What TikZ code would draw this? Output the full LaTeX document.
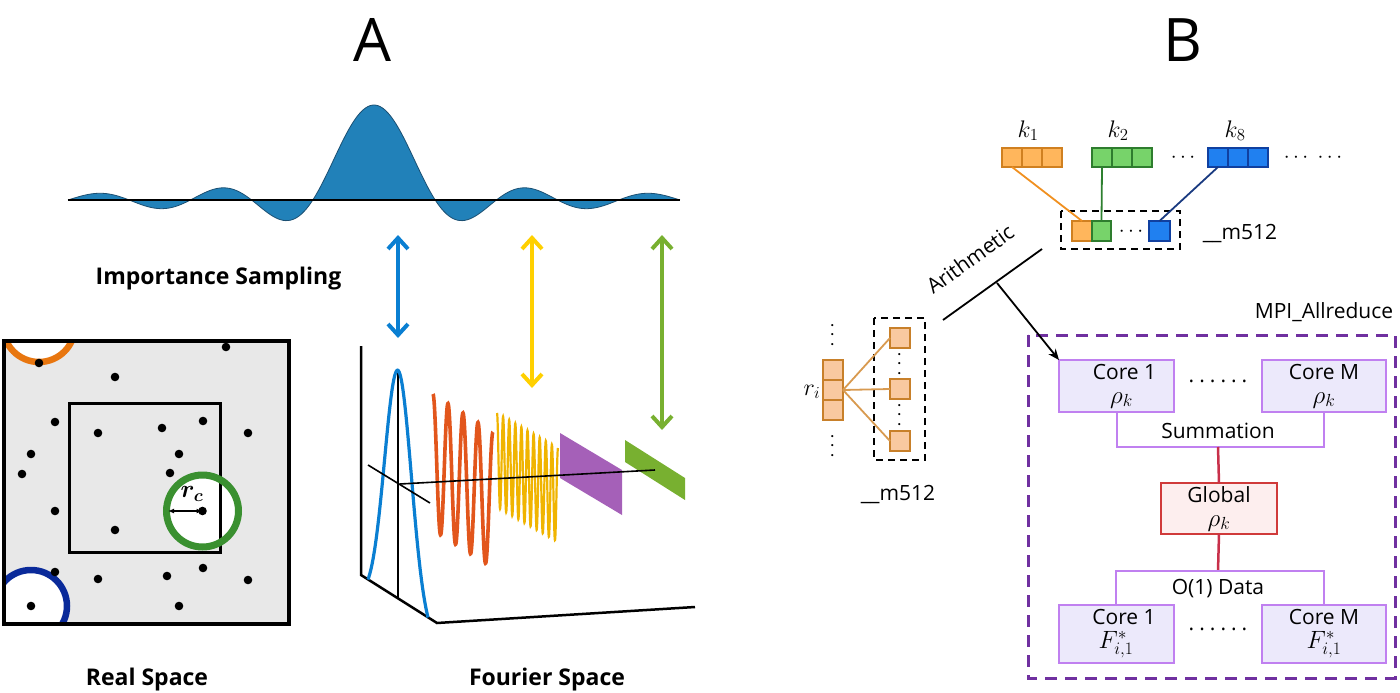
\RequirePackage{fix-cm}
\documentclass[tikz,border=0pt]{standalone}
\usepackage{fontspec}
\setmainfont{Open Sans}
\usepackage{bm}
\usetikzlibrary{arrows.meta}

\definecolor{sincfill}{HTML}{2181B9}
\definecolor{sincline}{HTML}{1B4F72}
\definecolor{arrblue}{HTML}{0A7FD2}
\definecolor{arryellow}{HTML}{FFD000}
\definecolor{arrgreen}{HTML}{78B030}
\definecolor{rsgray}{HTML}{E8E8E8}
\definecolor{ringorange}{HTML}{E8760F}
\definecolor{ringblue}{HTML}{0A2A9A}
\definecolor{ringgreen}{HTML}{3A9030}
\definecolor{waveorange}{HTML}{E2561C}
\definecolor{waveyellow}{HTML}{F0B400}
\definecolor{plpurple}{HTML}{9B4FB0}
\definecolor{plgreen}{HTML}{78B030}
\definecolor{korfill}{HTML}{FFB65C}
\definecolor{kordraw}{HTML}{D08020}
\definecolor{kgrfill}{HTML}{77D36A}
\definecolor{kgrdraw}{HTML}{2E7D2E}
\definecolor{kblfill}{HTML}{2080F0}
\definecolor{kbldraw}{HTML}{1040A0}
\definecolor{lnorange}{HTML}{F09020}
\definecolor{lngreen}{HTML}{2E8030}
\definecolor{lnblue}{HTML}{1A3A80}
\definecolor{rfill}{HTML}{F9C9A0}
\definecolor{rdraw}{HTML}{C8802A}
\definecolor{rline}{HTML}{D89A50}
\definecolor{mpipurple}{HTML}{7030A0}
\definecolor{corefill}{HTML}{ECE9FB}
\definecolor{coredraw}{HTML}{C080F0}
\definecolor{globfill}{HTML}{FDEEEE}
\definecolor{globdraw}{HTML}{D03A3A}
\definecolor{redline}{HTML}{C8304A}

\newcommand{\mymath}[1]{{\fontsize{25}{24}\selectfont$#1$}}

\tikzset{
  lblbold/.style={font=\fontsize{23}{27}\selectfont\bfseries},
  txt/.style={font=\fontsize{21}{24}\selectfont},
  mathlbl/.style={font=\fontsize{24}{26}\selectfont},
  dbl/.style={line width=4pt, {Straight Barb[length=11pt,width=20pt]}-{Straight Barb[length=11pt,width=20pt]}},
  ocell/.style={draw=kordraw, fill=korfill, line width=1.3pt, minimum width=20pt, minimum height=19pt},
  gcell/.style={draw=kgrdraw, fill=kgrfill, line width=1.3pt, minimum width=20pt, minimum height=19pt},
  bcell/.style={draw=kbldraw, fill=kblfill, line width=1.3pt, minimum width=20pt, minimum height=19pt},
  rcell/.style={draw=rdraw, fill=rfill, line width=1.3pt, minimum width=20pt, minimum height=20pt},
  dashbox/.style={draw, dashed, dash pattern=on 7pt off 5pt, line width=1.8pt},
  corebox/.style={draw=coredraw, fill=corefill, line width=2pt, align=center, txt, minimum height=52pt},
  globbox/.style={draw=globdraw, fill=globfill, line width=2pt, align=center, txt},
  bracket/.style={draw=coredraw, line width=2pt},
  redl/.style={draw=redline, line width=2.5pt},
  dotsh/.style={font=\fontsize{21}{24}\selectfont},
}

\begin{document}
\begin{tikzpicture}[x=1pt,y=-1pt, every node/.style={inner sep=0pt, outer sep=0pt}]
\useasboundingbox (0,0) rectangle (1400,693);

% ---------- titles ----------
\node[font=\fontsize{60}{60}\selectfont] (labA) at (372,40) {A};
\node[font=\fontsize{60}{60}\selectfont] (labB) at (1183,40) {B};

% ---------- sinc ----------
\draw[fill=sincfill, draw=sincline, line width=0.8pt]
  plot[domain=-5:5, samples=240, smooth] ({374+61.2*\x},{200-95*sin(180*\x)/(pi*\x)});
\coordinate (base1) at (68,200);
\coordinate (base2) at (680,200);
\draw[line width=2pt] (base1) -- (base2);
\node[lblbold, anchor=base] (imps) at (218.5,284) {Importance Sampling};

% ---------- double arrows ----------
\coordinate (ab1) at (398,235); \coordinate (ab2) at (398,338);
\coordinate (ay1) at (532,235); \coordinate (ay2) at (532,388);
\coordinate (ag1) at (662,235); \coordinate (ag2) at (662,430);
\draw[dbl, arrblue] (ab1) -- (ab2);
\draw[dbl, arryellow] (ay1) -- (ay2);
\draw[dbl, arrgreen] (ag1) -- (ag2);

% ---------- real space ----------
\fill[rsgray] (4,341) rectangle (289,624);
\begin{scope}
  \clip (4,341) rectangle (289,624);
  \fill[white] (39,326) circle (36);
  \fill[white] (31,606) circle (36);
\end{scope}
\fill[white] (202.5,511) circle (36);
\draw[line width=3pt] (69,403) rectangle (220,552);
\begin{scope}
  \clip (4,341) rectangle (289,624);
  \draw[ringorange, line width=6.5pt] (39,326) circle (36);
  \draw[ringblue, line width=6.5pt] (31,606) circle (36);
\end{scope}
\draw[ringgreen, line width=7pt] (202.5,511) circle (36);
\foreach \px/\py in {39/363,226/347,115/377,55/422,98/433,162/428,203/421,248/433,
  31/454,179/454,22/474,170/473,55/511,202.5/511,115/530,55/572,98/579,167/576,
  203/568,248/580,31/606,179/606}
  \fill (\px,\py) circle (4.3);
\draw[line width=3.5pt] (4,341) rectangle (289,624);
\coordinate (rc1) at (168,511);
\coordinate (rc2) at (202.5,511);
\draw[{Latex[length=6pt,width=5pt]}-{Latex[length=6pt,width=5pt]}, line width=1.2pt] (rc1) -- (rc2);
\node[font=\fontsize{25}{26}\selectfont] (rclab) at (192,494) {$\bm{r_c}$};
\node[lblbold, anchor=base] (rsl) at (147,685) {Real Space};

% ---------- Fourier space ----------
\coordinate (fa1) at (361,346);
\coordinate (fa2) at (361,575);
\coordinate (fa3) at (437,623);
\coordinate (fa4) at (695,607);
\draw[line width=2.5pt, line join=miter] (fa1) -- (fa2) -- (fa3) -- (fa4);
\coordinate (gv1) at (398,370);
\coordinate (gv2) at (398,598);
\draw[line width=1.3pt] (gv1) -- (gv2);
\draw[arrblue, line width=3.2pt]
  plot[domain=-30:30, samples=90, smooth] ({398+\x},{598.4+0.632*\x-228*(exp(0-(\x*\x/361))-0.083)/0.917});
\draw[waveorange, line width=3.6pt]
  plot[domain=0:1, samples=241, smooth] ({433+60*\x},{462+38*\x-68*cos(1440*\x)});
\draw[waveyellow, line width=2.2pt]
  plot[domain=0:1, samples=501] ({497+61*\x},{460+35*\x-47*cos(3600*\x)});
\fill[plpurple, opacity=0.9] (560,433) -- (622,470) -- (622,515) -- (560,478) -- cycle;
\fill[plgreen] (625,440) -- (685,478) -- (685,500) -- (625,462) -- cycle;
\coordinate (dl1) at (368,465); \coordinate (dl2) at (430,503);
\draw[line width=1.6pt] (dl1) -- (dl2);
\coordinate (hl1) at (400,484); \coordinate (hl2) at (655,470);
\draw[line width=1.6pt] (hl1) -- (hl2);
\node[lblbold, anchor=base] (fsl) at (547,685) {Fourier Space};

% ---------- B: k vectors ----------
\node[ocell] (k1a) at (1012,157.5) {};
\node[ocell] (k1b) at (1032,157.5) {};
\node[ocell] (k1c) at (1052,157.5) {};
\node[gcell] (k2a) at (1102,157.5) {};
\node[gcell] (k2b) at (1122,157.5) {};
\node[gcell] (k2c) at (1142,157.5) {};
\node[bcell] (k8a) at (1218,157.5) {};
\node[bcell] (k8b) at (1238,157.5) {};
\node[bcell] (k8c) at (1258,157.5) {};
\node[mathlbl, anchor=base] (k1l) at (1028,137) {$k_1$};
\node[mathlbl, anchor=base] (k2l) at (1118,137) {$k_2$};
\node[mathlbl, anchor=base] (k8l) at (1235,137) {$k_8$};
\node[dotsh, anchor=base] (kd1) at (1183,162) {$\cdots$};
\node[dotsh, anchor=base] (kd2) at (1313,162) {$\cdots\;\cdots$};

% m512 register
\draw[dashbox] (1061,211) rectangle (1180,249);
\node[ocell, minimum height=20pt] (sqo) at (1082,231) {};
\node[gcell, minimum height=20pt, minimum width=19pt] (sqg) at (1101.5,231) {};
\node[bcell, minimum height=20pt, minimum width=21pt] (sqb) at (1159.5,231) {};
\node[dotsh, anchor=base] (md) at (1131,236) {$\cdots$};
\draw[lnorange, line width=1.8pt] (k1a.south) -- (sqo.north);
\draw[lngreen, line width=1.8pt] (k2a.south) -- (sqg.north);
\draw[lnblue, line width=1.8pt] (k8a.south) -- (sqb.north);
\node[txt, anchor=base] (m1) at (1240,239) {\_\_m512};

% r_i
\node[rcell] (ra) at (833,370) {};
\node[rcell] (rb) at (833,390) {};
\node[rcell] (rc) at (833,410) {};
\node[dotsh, rotate=90] (rv1) at (833,335) {$\cdots$};
\node[dotsh, rotate=90] (rv2) at (833,446) {$\cdots$};
\node[mathlbl] (ril) at (812,392) {$r_i$};
\draw[dashbox] (874,318) rectangle (925,460);
\node[rcell] (s1) at (900,338) {};
\node[rcell] (s2) at (900,389) {};
\node[rcell] (s3) at (900,441) {};
\node[dotsh, rotate=90] (sv1) at (900,364) {$\cdots$};
\node[dotsh, rotate=90] (sv2) at (900,415) {$\cdots$};
\draw[rline, line width=1.8pt] (rb.east) -- (s1.west);
\draw[rline, line width=1.8pt] (rb.east) -- (s2.west);
\draw[rline, line width=1.8pt] (rb.east) -- (s3.west);
\node[txt, anchor=base] (m2) at (898,500) {\_\_m512};

% Arithmetic
\coordinate (ar1) at (943,320);
\coordinate (ar2) at (1042,249);
\coordinate (armid) at (997,283);
\draw[line width=1.8pt] (ar1) -- (ar2);
\node[font=\fontsize{21}{24}\selectfont, rotate=35.6] (arith) at (970,259) {Arithmetic};

% MPI box
\draw[mpipurple, line width=3pt, dash pattern=on 12pt off 8pt] (1028,335) rectangle (1395,678);
\node[txt, anchor=base] (mpil) at (1324,318) {MPI\_Allreduce};

\node[corebox, minimum width=115pt] (c1) at (1116.5,386) {\hspace*{16pt}Core 1\\\hspace*{10pt}\mymath{\rho_k}};
\node[corebox, minimum width=124pt] (cM) at (1324,386) {Core M\\\mymath{\rho_k}};
\node[txt, anchor=base] (cdots1) at (1218,382) {.\hspace{5pt}.\hspace{5pt}.\hspace{5pt}.\hspace{5pt}.\hspace{5pt}.};
\coordinate (sumc) at (1218,447);
\draw[bracket] (c1.south) |- (sumc) -| (cM.south);
\node[txt, anchor=base] (sumt) at (1218,438) {Summation};
\node[globbox, minimum width=116pt, minimum height=51pt] (glob) at (1219,508.5) {Global\\\mymath{\rho_k}};
\coordinate (datc) at (1218,571);
\draw[redl] (sumc) -- (glob.north);
\draw[redl] (glob.south) -- (datc);
\node[corebox, minimum width=115pt, minimum height=58pt] (f1) at (1116,634) {\hspace*{16pt}Core 1\\\mymath{F^{*}_{i,1}}};
\node[corebox, minimum width=124pt, minimum height=58pt] (fM) at (1324,634) {Core M\\\mymath{F^{*}_{i,1}}};
\draw[bracket] (f1.north) |- (datc) -| (fM.north);
\node[txt, anchor=base] (datt) at (1218,594) {O(1) Data};
\node[txt, anchor=base] (cdots2) at (1218,630) {.\hspace{5pt}.\hspace{5pt}.\hspace{5pt}.\hspace{5pt}.\hspace{5pt}.};

\draw[-{Stealth[length=11pt,width=9pt]}, line width=1.8pt] (armid) -- (c1.north west);
\end{tikzpicture}
\end{document}
